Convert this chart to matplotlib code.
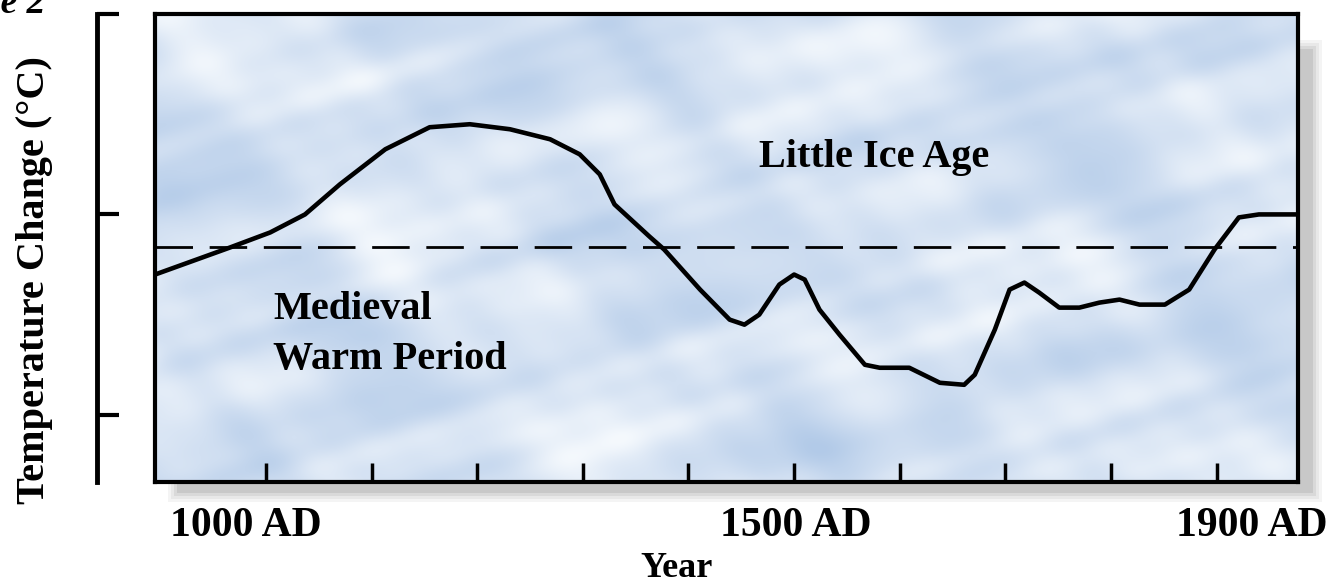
import numpy as np
import matplotlib

matplotlib.use("Agg")

import matplotlib.pyplot as plt
from matplotlib.colors import LinearSegmentedColormap
from matplotlib.patches import Rectangle
from matplotlib.transforms import blended_transform_factory


# schematic temperature curve
YEARS = [895, 966, 1004, 1037, 1070, 1113, 1155, 1193, 1231, 1269, 1297,
         1316, 1330, 1363, 1377, 1411, 1439, 1453, 1467, 1486, 1500, 1510,
         1524, 1543, 1567, 1581, 1609, 1638, 1661, 1671, 1690, 1704, 1718,
         1732, 1751, 1770, 1789, 1808, 1827, 1851, 1874, 1898, 1921, 1940,
         1977]
TEMPS = [0.20, 0.335, 0.41, 0.50, 0.65, 0.825, 0.935, 0.95, 0.925, 0.875,
         0.80, 0.70, 0.55, 0.39, 0.325, 0.125, -0.025, -0.05, 0.0, 0.15,
         0.20, 0.175, 0.025, -0.10, -0.25, -0.265, -0.265, -0.34, -0.35,
         -0.30, -0.075, 0.125, 0.16, 0.11, 0.035, 0.035, 0.06, 0.075, 0.05,
         0.05, 0.125, 0.325, 0.485, 0.50, 0.50]

REFERENCE_LEVEL = 0.335
CENTURY_TICKS = list(range(1000, 2000, 100))
YEAR_LABELS = ["1000 AD", "1500 AD", "1900 AD"]
YEAR_LABEL_POS = [981, 1502, 1933]
TEMP_TICKS = [-0.5, 0.5, 1.5]

XLIM = (895, 1977)
YLIM = (-0.835, 1.5)

SERIF = ["Liberation Serif", "DejaVu Serif"]


def cloud_texture(nx=500, ny=220):
    # deterministic soft "sky" pattern for the backdrop
    x = np.linspace(0, 1, nx)
    y = np.linspace(0, 1, ny)
    xx, yy = np.meshgrid(x, y)
    waves = [
        (2.0, 1.3, 0.3, 1.0),
        (3.1, 2.4, 1.7, 0.8),
        (5.3, 3.7, 2.9, 0.6),
        (7.9, 5.2, 0.8, 0.45),
        (11.7, 8.3, 4.1, 0.3),
        (1.4, 4.6, 5.2, 0.7),
        (6.6, 1.9, 3.3, 0.5),
        (13.9, 10.1, 1.1, 0.2),
    ]
    tex = np.zeros_like(xx)
    for fx, fy, ph, amp in waves:
        tex += amp * np.sin(2 * np.pi * (fx * xx + 0.37 * fy * yy) + ph) * \
            np.cos(2 * np.pi * (fy * yy - 0.21 * fx * xx) + 0.5 * ph)
    tex = (tex - tex.min()) / (tex.max() - tex.min())
    return tex


fig = plt.figure(figsize=(13.31, 5.88), dpi=100)
ax = fig.add_axes([155 / 1331, 106 / 588, 1143 / 1331, 468 / 588])

# drop shadow behind the frame
for i, a in enumerate([0.07, 0.09, 0.12, 0.16]):
    shrink = i * 3
    fig.patches.append(Rectangle(
        ((168 + shrink) / 1331, (86 + shrink) / 588),
        (1154 - 2 * shrink) / 1331, (462 - 2 * shrink) / 588,
        transform=fig.transFigure, facecolor="#707070", alpha=a,
        edgecolor="none", zorder=-5,
    ))

sky = LinearSegmentedColormap.from_list("sky", ["#b2cae8", "#d2e0f2", "#f5f9fd"])
ax.imshow(cloud_texture(), cmap=sky, extent=(XLIM[0], XLIM[1], YLIM[0], YLIM[1]),
          aspect="auto", interpolation="bicubic", zorder=0)

ax.axhline(REFERENCE_LEVEL, color="black", lw=2.0, dashes=(13.5, 6), zorder=2)
ax.plot(YEARS, TEMPS, color="black", lw=3.3, solid_joinstyle="round",
        solid_capstyle="round", zorder=3)

ax.set_xlim(*XLIM)
ax.set_ylim(*YLIM)
ax.set_xticks(CENTURY_TICKS)
ax.set_xticklabels([])
ax.set_yticks([])
ax.tick_params(axis="x", direction="in", length=14, width=2.5, color="black")
for sp in ax.spines.values():
    sp.set_linewidth(3)
    sp.set_color("black")

# free-standing temperature axis left of the frame
yax = ax.secondary_yaxis(-58 / 1143)
yax.set_yticks(TEMP_TICKS)
yax.set_yticklabels([])
yax.tick_params(direction="in", length=16, width=3)
yax.spines["left"].set_linewidth(3.5)

trans = blended_transform_factory(ax.transData, ax.transAxes)
for label, pos in zip(YEAR_LABELS, YEAR_LABEL_POS):
    ax.text(pos, -0.094, label, transform=trans, ha="center", va="center",
            fontsize=30, fontweight="bold", family=SERIF)

ax.text(1467, 0.785, "Little Ice Age", ha="left", va="center",
        fontsize=29, fontweight="bold", family=SERIF, zorder=4)
ax.text(1007, 0.025, "Medieval", ha="left", va="center",
        fontsize=29, fontweight="bold", family=SERIF, zorder=4)
ax.text(1007, -0.225, "Warm Period", ha="left", va="center",
        fontsize=29, fontweight="bold", family=SERIF, zorder=4)

fig.text(677 / 1331, 3 / 588, "Year", ha="center", va="bottom",
         fontsize=26, fontweight="bold", family=SERIF)
fig.text(35 / 1331, 1 - 280 / 588, "Temperature Change (°C)", rotation=90,
         ha="center", va="center", fontsize=29, fontweight="bold", family=SERIF)
fig.text(45 / 1331, 1 - 13 / 588, "Figure 2", ha="right", va="baseline",
         fontsize=27, fontweight="bold", style="italic", family=SERIF)

fig.savefig("out.png", dpi=100)
